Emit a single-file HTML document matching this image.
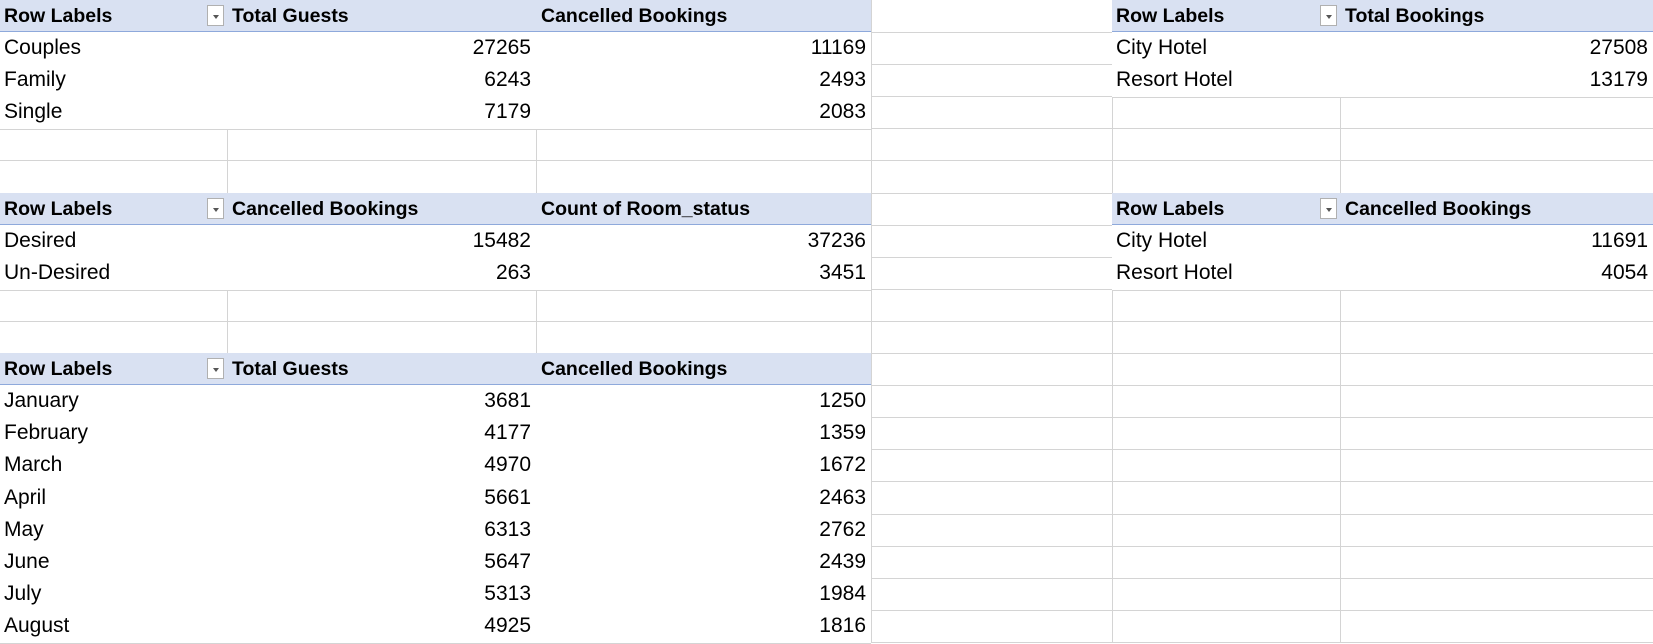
<!DOCTYPE html>
<html><head><meta charset="utf-8">
<style>
body{margin:0;width:1653px;height:642px;overflow:hidden;background:#fff;font-family:"Liberation Sans",Arial,sans-serif;position:relative}
.c{position:absolute;box-sizing:border-box;border-right:1px solid #d4d4d4;border-bottom:1px solid #d4d4d4}
.pt{position:absolute;background:#fff;border-bottom:1px solid #d4d4d4}
.h{position:absolute;background:#d9e1f2;border-bottom:1.5px solid #8ea9db;box-sizing:border-box}
.t{position:absolute;font-size:21px;line-height:32px;white-space:nowrap;color:#000}
.b{font-weight:bold;font-size:19.5px}
.r{text-align:right}
.dd{position:absolute;width:17px;height:21px;border:1px solid #b0b0b0;background:#fff;box-sizing:border-box}
.dd:after{content:"";position:absolute;left:5px;top:9px;border-left:3px solid transparent;border-right:3px solid transparent;border-top:4px solid #555}
</style></head><body>
<script>
const colX=[0,227,536,871,1112,1340,1653];
const RH=32.1;
const rows=20;
function cell(x,y,w,h,name){const d=document.createElement('div');d.className='c';d.style.cssText+=`left:${x}px;top:${y}px;width:${w}px;height:${h}px`;


document.body.appendChild(d);}
for(let r=0;r<rows;r++)for(let c=0;c<6;c++)cell(colX[c],r*RH,colX[c+1]-colX[c]+1,RH+1,'sheet-cell');
const tables=[
 {name:'pivot-guest-type',c0:0,c1:3,r0:0,heads:['Row Labels','Total Guests','Cancelled Bookings'],
  labels:['Couples','Family','Single'],v1:[27265,6243,7179],v2:[11169,2493,2083]},
 {name:'pivot-hotel-bookings',c0:4,c1:6,r0:0,heads:['Row Labels','Total Bookings'],
  labels:['City Hotel','Resort Hotel'],v1:[27508,13179],v2:null},
 {name:'pivot-room-status',c0:0,c1:3,r0:6,heads:['Row Labels','Cancelled Bookings','Count of Room_status'],
  labels:['Desired','Un-Desired'],v1:[15482,263],v2:[37236,3451]},
 {name:'pivot-hotel-cancellations',c0:4,c1:6,r0:6,heads:['Row Labels','Cancelled Bookings'],
  labels:['City Hotel','Resort Hotel'],v1:[11691,4054],v2:null},
 {name:'pivot-monthly',c0:0,c1:3,r0:11,heads:['Row Labels','Total Guests','Cancelled Bookings'],
  labels:['January','February','March','April','May','June','July','August'],v1:[3681,4177,4970,5661,6313,5647,5313,4925],v2:[1250,1359,1672,2463,2762,2439,1984,1816]}
];
function txt(s,x,y,w,cls,name){const d=document.createElement('div');d.className='t '+cls;d.textContent=s;
d.style.cssText+=`left:${x}px;top:${y}px;`+(w?`width:${w}px;`:'');


document.body.appendChild(d);}
tables.forEach(t=>{
 const x0=colX[t.c0],x1=colX[t.c1],y0=t.r0*RH,n=t.labels.length;
 const box=document.createElement('div');box.className='pt';
 box.style.cssText+=`left:${x0}px;top:${y0}px;width:${x1-x0}px;height:${(n+1)*RH+1}px`;
 
 
 document.body.appendChild(box);
 const h=document.createElement('div');h.className='h';
 h.style.cssText+=`left:${x0}px;top:${y0}px;width:${x1-x0}px;height:${RH}px`;
 
 
 document.body.appendChild(h);
 txt(t.heads[0],x0+4,y0,0,'b','row-labels-header');
 const dd=document.createElement('div');dd.className='dd';
 dd.style.cssText+=`left:${colX[t.c0+1]-20}px;top:${y0+5}px`;
 
 
 document.body.appendChild(dd);
 txt(t.heads[1],colX[t.c0+1]+5,y0,0,'b','value-header');
 if(t.heads[2])txt(t.heads[2],colX[t.c0+2]+5,y0,0,'b','value-header');
 t.labels.forEach((l,i)=>{
  const y=y0+(i+1)*RH;
  txt(l,x0+4,y,0,'','row-label');
  const c1=t.v2?t.c0+1:t.c0+1, right1=t.v2?colX[t.c0+2]:colX[t.c1];
  txt(String(t.v1[i]),colX[c1],y,right1-colX[c1]-5,'r','value-cell');
  if(t.v2)txt(String(t.v2[i]),colX[t.c0+2],y,colX[t.c1]-colX[t.c0+2]-5,'r','value-cell');
 });
});
</script>
</body></html>
